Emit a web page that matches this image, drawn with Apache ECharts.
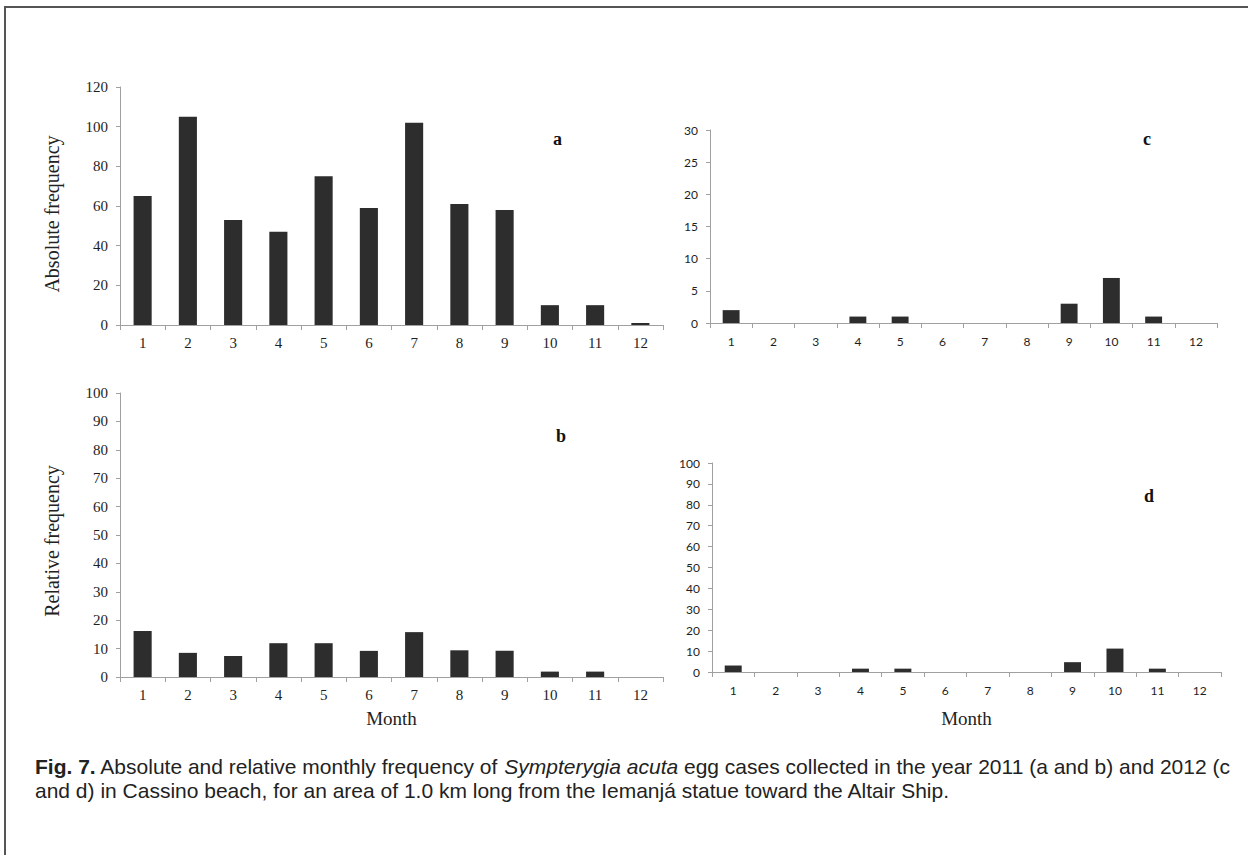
<!DOCTYPE html>
<html><head><meta charset="utf-8">
<script src="https://cdn.jsdelivr.net/npm/echarts@6/dist/echarts.min.js"></script>
<style>html,body{margin:0;padding:0;background:#fff}#c{width:1248px;height:855px}</style>
</head><body><div id="c"></div>
<script>
const months = ['1','2','3','4','5','6','7','8','9','10','11','12'];
const absolute2011 = [65, 105, 53, 47, 75, 59, 102, 61, 58, 10, 10, 1];
const relative2011 = [16.2, 8.5, 7.4, 11.9, 11.9, 9.2, 15.8, 9.4, 9.2, 1.9, 1.9, 0];
const absolute2012 = [2, 0, 0, 1, 1, 0, 0, 0, 3, 7, 1, 0];
const relative2012 = [3.1, 0, 0, 1.6, 1.6, 0, 0, 0, 4.7, 11.2, 1.6, 0];
const panelLetters = ['a', 'b', 'c', 'd'];
const yTitles = ['Absolute frequency', 'Relative frequency'];

const serif = 'Liberation Serif';
const sans = 'Lato';
const axisGray = '#a0a0a0';
const barColor = '#2d2d2d';

const grids = [
  {left: 120, top: 87, width: 543, height: 238},
  {left: 120, top: 393, width: 543, height: 284},
  {left: 710, top: 130, width: 507, height: 193},
  {left: 712, top: 463, width: 509, height: 209}
];
const yCfg = [
  {max: 120, interval: 20, font: serif, size: 15, margin: 12},
  {max: 100, interval: 10, font: serif, size: 15, margin: 12},
  {max: 30, interval: 5, font: sans, size: 12, margin: 12},
  {max: 100, interval: 10, font: sans, size: 12, margin: 12}
];
const xCfg = [
  {font: serif, size: 15, name: '', margin: 10},
  {font: serif, size: 15, name: 'Month', gap: 32, margin: 10},
  {font: sans, size: 12, name: '', margin: 12},
  {font: sans, size: 12, name: 'Month', gap: 37, margin: 12}
];
const seriesData = [absolute2011, relative2011, absolute2012, relative2012];

const chart = echarts.init(document.getElementById('c'), null, {renderer: 'svg'});
chart.setOption({
  backgroundColor: '#fff',
  animation: false,
  grid: grids.map(g => Object.assign({containLabel: false}, g)),
  xAxis: xCfg.map((c, i) => ({
    type: 'category', gridIndex: i, data: months,
    name: c.name, nameLocation: 'middle', nameGap: c.gap || 0,
    nameTextStyle: {fontFamily: serif, fontSize: 19, color: '#222'},
    axisLine: {lineStyle: {color: axisGray, width: 1}},
    axisTick: {show: true, length: 5, lineStyle: {color: axisGray}},
    axisLabel: {fontFamily: c.font, fontSize: c.size, color: '#1e1e1e', margin: c.margin}
  })),
  yAxis: yCfg.map((c, i) => ({
    type: 'value', gridIndex: i, min: 0, max: c.max, interval: c.interval,
    axisLine: {show: true, lineStyle: {color: axisGray, width: 1}},
    axisTick: {show: true, length: 4, lineStyle: {color: axisGray}},
    splitLine: {show: false},
    axisLabel: {fontFamily: c.font, fontSize: c.size, color: '#1e1e1e', margin: c.margin}
  })),
  series: seriesData.map((d, i) => ({
    type: 'bar', xAxisIndex: i, yAxisIndex: i, data: d,
    barWidth: '40%',
    itemStyle: {color: barColor}
  })),
  graphic: [
    {type: 'rect', shape: {x: 5, y: 7, width: 1260, height: 860}, style: {fill: 'none', stroke: '#555', lineWidth: 2}, silent: true},
    {type: 'text', x: 52, y: 214, rotation: Math.PI / 2, style: {text: yTitles[0], font: '20px "Liberation Serif"', fill: '#222', align: 'center', verticalAlign: 'middle'}},
    {type: 'text', x: 52, y: 541, rotation: Math.PI / 2, style: {text: yTitles[1], font: '20px "Liberation Serif"', fill: '#222', align: 'center', verticalAlign: 'middle'}},
    {type: 'text', left: 553, top: 130, style: {text: panelLetters[0], font: 'bold 18px "Liberation Serif"', fill: '#111'}},
    {type: 'text', left: 556, top: 427, style: {text: panelLetters[1], font: 'bold 18px "Liberation Serif"', fill: '#111'}},
    {type: 'text', left: 1143, top: 130, style: {text: panelLetters[2], font: 'bold 18px "Liberation Serif"', fill: '#111'}},
    {type: 'text', left: 1144, top: 487, style: {text: panelLetters[3], font: 'bold 18px "Liberation Serif"', fill: '#111'}},
    {type: 'text', left: 35, top: 754, style: {
      text: '{b|Fig. 7.} Absolute and relative monthly frequency of {i|Sympterygia acuta} egg cases collected in the year 2011 (a and b) and 2012 (c\nand d) in Cassino beach, for an area of 1.0 km long from the Iemanjá statue toward the Altair Ship.',
      font: '21px "Liberation Sans"', fill: '#222', lineHeight: 24,
      rich: {
        b: {fontWeight: 'bold', fontFamily: 'Liberation Sans', fontSize: 21, fill: '#222', lineHeight: 24},
        i: {fontStyle: 'italic', fontFamily: 'Liberation Sans', fontSize: 21, fill: '#222', lineHeight: 24}
      }
    }}
  ]
});
</script></body></html>
